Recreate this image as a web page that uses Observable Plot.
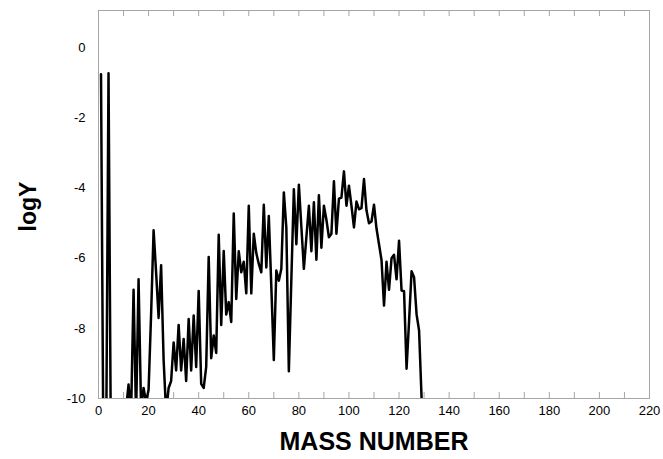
<!DOCTYPE html>
<html>
<head>
<meta charset="utf-8">
<script src="https://cdn.jsdelivr.net/npm/d3@7"></script>
<script src="https://cdn.jsdelivr.net/npm/@observablehq/plot@0.6"></script>
<style>
  html, body { margin: 0; padding: 0; background: #fff; }
</style>
</head>
<body>
<div id="chart"></div>
<script>
const massNumber = [
  1, 2, 3, 4, 5, 6, 7, 8, 9, 10,
  11, 12, 13, 14, 15, 16, 17, 18, 19, 20,
  21, 22, 23, 24, 25, 26, 27, 28, 29, 30,
  31, 32, 33, 34, 35, 36, 37, 38, 39, 40,
  41, 42, 43, 44, 45, 46, 47, 48, 49, 50,
  51, 52, 53, 54, 55, 56, 57, 58, 59, 60,
  61, 62, 63, 64, 65, 66, 67, 68, 69, 70,
  71, 72, 73, 74, 75, 76, 77, 78, 79, 80,
  81, 82, 83, 84, 85, 86, 87, 88, 89, 90,
  91, 92, 93, 94, 95, 96, 97, 98, 99, 100,
  101, 102, 103, 104, 105, 106, 107, 108, 109, 110,
  111, 112, 113, 114, 115, 116, 117, 118, 119, 120,
  121, 122, 123, 124, 125, 126, 127, 128, 129
];
const logY = [
  -0.75, -12, -12, -0.72, -12, -12, -12, -12, -12, -12,
  -10.3, -9.6, -10.5, -6.9, -10.5, -6.6, -10.3, -9.7, -10.1, -9.75,
  -7.6, -5.2, -6.4, -7.7, -6.2, -8.9, -10.4, -9.7, -9.5, -8.4,
  -9.2, -7.9, -9.2, -8.3, -9.5, -7.73, -9.2, -7.63, -9.1, -6.93,
  -9.58, -9.7, -9.1, -5.96, -8.85, -8.2, -8.7, -5.33, -7.9, -5.79,
  -7.6, -7.25, -7.82, -4.72, -7.16, -5.8, -6.4, -6.1, -7.0, -4.5,
  -7.0, -5.3, -5.85, -6.16, -6.4, -4.47, -6.26, -4.79, -6.8, -8.9,
  -6.35, -6.64, -6.3, -4.12, -5.13, -9.22, -6.6, -4.03, -5.6, -3.9,
  -5.1, -6.3, -5.4, -4.5, -5.8, -4.4, -6.04, -4.2, -5.7, -4.5,
  -4.9, -5.4, -5.3, -3.8, -5.3, -4.3, -4.27, -3.52, -4.5, -3.93,
  -4.5, -5.12, -4.38, -4.6, -4.57, -3.74, -4.63, -5.0, -4.95, -4.47,
  -5.15, -5.6, -6.05, -7.35, -6.1, -6.9, -6.0, -5.9, -6.6, -5.5,
  -6.92, -6.94, -9.15, -7.8, -6.37, -6.54, -7.6, -8.06, -10.0
];
const xTickLabels = [0, 20, 40, 60, 80, 100, 120, 140, 160, 180, 200, 220];
const xMinorTicks = [10, 20, 30, 40, 50, 60, 70, 80, 90, 100, 110, 120, 130, 140, 150, 160, 170, 180, 190, 200, 210];
const yTickLabels = [0, -2, -4, -6, -8, -10];
const xTitle = "MASS NUMBER";
const yTitle = "logY";

const rows = massNumber.map((a, i) => ({a, v: logY[i]}));
const font = "'Liberation Sans', Arial, Helvetica, sans-serif";
const frameGray = "#a6a6a6";

const chart = Plot.plot({
  width: 663,
  height: 459,
  marginLeft: 98,
  marginRight: 14,
  marginTop: 10,
  marginBottom: 61,
  style: {fontFamily: font, fontSize: "13px", background: "#fff", color: "#000"},
  x: {domain: [0, 220]},
  y: {domain: [-10, 1.07]},
  marks: [
    Plot.frame({stroke: frameGray}),
    Plot.ruleX(xMinorTicks, {stroke: frameGray, insetTop: 382}),
    Plot.ruleX(xMinorTicks, {stroke: frameGray, insetBottom: 382}),
    Plot.axisX({ticks: xTickLabels, tickSize: 0, tickPadding: 7, tickFormat: d => String(d), fontSize: 13, label: null}),
    Plot.axisY({ticks: yTickLabels, tickSize: 0, tickPadding: 13, tickFormat: d => String(d), fontSize: 13, label: null}),
    Plot.line(rows, {x: "a", y: "v", stroke: "#000", strokeWidth: 2.5, strokeLinejoin: "round", clip: true}),
    Plot.text([xTitle], {text: d => d, frameAnchor: "bottom", textAnchor: "middle", lineAnchor: "bottom", dy: 51, fontSize: 25, fontWeight: "bold", fill: "#000"}),
    Plot.text([yTitle], {text: d => d, frameAnchor: "left", textAnchor: "middle", lineAnchor: "middle", dx: -70, dy: 2, rotate: -90, fontSize: 23, fontWeight: "bold", fill: "#000"})
  ]
});
document.getElementById("chart").appendChild(chart);
</script>
</body>
</html>
